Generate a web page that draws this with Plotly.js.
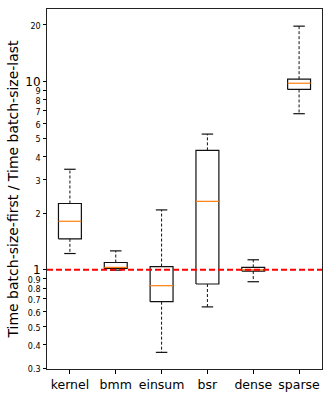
<!DOCTYPE html>
<html>
<head>
<meta charset="utf-8">
<script src="https://cdn.plot.ly/plotly-3.0.1.min.js"></script>
<style>
  html, body { margin: 0; padding: 0; background: #fff; }
  #chart { width: 332px; height: 399px; }
</style>
</head>
<body>
<div id="chart"></div>
<script>
// box statistics
const methods = ['kernel', 'bmm', 'einsum', 'bsr', 'dense', 'sparse'];
const whiskerLow  = [1.22, 0.995, 0.364, 0.635, 0.864, 6.75];
const q1          = [1.46, 1.016, 0.677, 0.84, 0.984, 9.08];
const medians     = [1.81, 1.03, 0.823, 2.31, 1.0, 9.8];
const q3          = [2.25, 1.093, 1.04, 4.31, 1.03, 10.3];
const whiskerHigh = [3.42, 1.26, 2.08, 5.26, 1.13, 19.7];

const refLine = 1;

const yTickVals = [0.3, 0.4, 0.5, 0.6, 0.7, 0.8, 0.9, 1, 2, 3, 4, 5, 6, 7, 8, 9, 10, 20];
const majorTicks = [1, 10];

const half = 0.25, capHalf = 0.125;

// build path arrays (null separates segments)
const boxX = [], boxY = [], medX = [], medY = [], whX = [], whY = [], capX = [], capY = [];
methods.forEach((m, i) => {
  boxX.push(i - half, i + half, i + half, i - half, i - half, null);
  boxY.push(q1[i], q1[i], q3[i], q3[i], q1[i], null);
  medX.push(i - half, i + half, null);
  medY.push(medians[i], medians[i], null);
  whX.push(i, i, null, i, i, null);
  whY.push(q1[i], whiskerLow[i], null, q3[i], whiskerHigh[i], null);
  capX.push(i - capHalf, i + capHalf, null, i - capHalf, i + capHalf, null);
  capY.push(whiskerLow[i], whiskerLow[i], null, whiskerHigh[i], whiskerHigh[i], null);
});

const traces = [
  { x: whX, y: whY, mode: 'lines', line: { color: '#111', width: 1, dash: '3px,2px' }, hoverinfo: 'skip' },
  { x: capX, y: capY, mode: 'lines', line: { color: '#111', width: 1.2 }, hoverinfo: 'skip' },
  { x: boxX, y: boxY, mode: 'lines', line: { color: '#111', width: 1.2 }, hoverinfo: 'skip' },
  { x: medX, y: medY, mode: 'lines', line: { color: '#ff7f0e', width: 1.2 }, hoverinfo: 'skip' }
];

const tickText = yTickVals.map(v => majorTicks.includes(v)
  ? String(v)
  : '<span style="font-size:8px">' + v + '</span>');

const layout = {
  width: 332,
  height: 399,
  margin: { l: 47, r: 10, t: 9, b: 30 },
  paper_bgcolor: '#fff',
  plot_bgcolor: '#fff',
  showlegend: false,
  font: { family: 'DejaVu Sans', color: '#000', size: 12.5 },
  xaxis: {
    range: [-0.5, 5.5],
    tickmode: 'array',
    tickvals: methods.map((m, i) => i),
    ticktext: methods,
    ticks: 'outside', ticklen: 3.5, tickcolor: '#000',
    showline: true, linecolor: '#222', linewidth: 1, mirror: true,
    showgrid: false, zeroline: false,
    tickfont: { size: 12.5 }
  },
  yaxis: {
    type: 'log',
    range: [Math.log10(0.297), Math.log10(24.3)],
    tickmode: 'array',
    tickvals: yTickVals,
    ticktext: tickText,
    ticks: 'outside', ticklen: 3, tickcolor: '#000',
    showline: true, linecolor: '#222', linewidth: 1, mirror: true,
    showgrid: false, zeroline: false,
    tickfont: { size: 12 },
    title: { text: 'Time batch-size-first / Time batch-size-last', font: { size: 14 }, standoff: 3 }
  },
  shapes: [{
    type: 'line', xref: 'paper', x0: 0, x1: 1, yref: 'y', y0: refLine, y1: refLine,
    line: { color: 'red', width: 1.8, dash: '6px,3px' }
  }]
};

Plotly.newPlot('chart', traces, layout, { displayModeBar: false, staticPlot: true });
</script>
</body>
</html>
